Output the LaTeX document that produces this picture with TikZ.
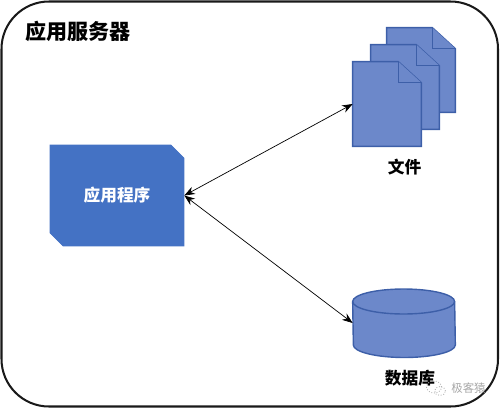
\documentclass[tikz,border=0pt]{standalone}
\usepackage{fontspec}
\setmainfont{Noto Sans CJK SC}
\usetikzlibrary{arrows.meta, calc, shapes.geometric, shapes.misc}
\definecolor{appblue}{HTML}{4472C4}
\definecolor{pageblue}{HTML}{6C88CA}
\definecolor{edgeblue}{HTML}{3D5FA8}
\begin{document}
\begin{tikzpicture}[
            x=0.02cm, y=-0.02cm,
            frame/.style={draw=black!90, line width=1.15pt, rounded corners=0.95cm},
            app/.style={chamfered rectangle, chamfered rectangle corners={north east, south west}, chamfered rectangle xsep=0.13cm, chamfered rectangle ysep=0.13cm, fill=appblue, draw=appblue, minimum width=2.68cm, minimum height=2.02cm, inner sep=0pt, text=white, font=\fontsize{9.5}{11}\selectfont\bfseries},
            pagebox/.style={minimum width=1.36cm, minimum height=1.68cm, inner sep=0pt},
            page/.style={draw=edgeblue, fill=pageblue, line width=0.8pt},
            storebox/.style={minimum width=2.04cm, minimum height=1.36cm, inner sep=0pt},
            title/.style={font=\fontsize{12}{14}\selectfont\bfseries},
            caption/.style={font=\fontsize{9.5}{11}\selectfont\bfseries},
            wmark/.style={text=black!35, font=\fontsize{6.5}{8}\selectfont},
            bubble/.style={ellipse, draw=black!30, densely dotted, line width=0.5pt, inner sep=0pt},
            link/.style={{Stealth[length=6pt,width=4.5pt]}-{Stealth[length=6pt,width=4.5pt]}, line width=0.4pt}
        ]
            \useasboundingbox (0,0) rectangle (500,409);
            \path[frame] (1.5,1.5) rectangle (498,406.5);
            \node[title] (server) at (78,31) {应用服务器};

            % --- nodes ---
            \node[app] (program) at (117,195.5) {应用程序};
            \foreach \n/\x/\y in {fileC/421/70, fileB/405/87, fileA/387/104} {
              \node[pagebox] (\n) at (\x,\y) {};
              \draw[page] (\n.north west) -- ($(\n.north east)+(-23,0)$) -- ($(\n.north east)+(0,21)$) -- (\n.south east) -- (\n.south west) -- cycle;
              \draw[page] ($(\n.north east)+(-23,0)$) -- ($(\n.north east)+(-23,21)$) -- ($(\n.north east)+(0,21)$);
            }
            \node[caption] (filelabel) at (404.5,167) {文件};
            \node[storebox] (store) at (404,323) {};
            \draw[page] ($(store.west)+(0,-21.5)$) arc[x radius=1.02cm, y radius=0.25cm, start angle=180, end angle=0] -- ($(store.east)+(0,22)$) arc[x radius=1.02cm, y radius=0.25cm, start angle=0, end angle=-180] -- cycle;
            \draw[page, fill=none] ($(store.west)+(0,-21.5)$) arc[x radius=1.02cm, y radius=0.25cm, start angle=180, end angle=360];
            \node[caption] (storelabel) at (410,378) {数据库};

            % --- watermark ---
            \node[bubble, minimum width=0.3cm, minimum height=0.24cm] (bubbleA) at (434,387) {};
            \node[bubble, minimum width=0.22cm, minimum height=0.18cm] (bubbleB) at (440,391) {};
            \node[wmark] (marklabel) at (468.5,388) {极客猿};

            % --- links ---
            \draw[link] (program.east) -- (fileA.west);
            \draw[link] (program.east) -- (store.west);
\end{tikzpicture}
\end{document}
